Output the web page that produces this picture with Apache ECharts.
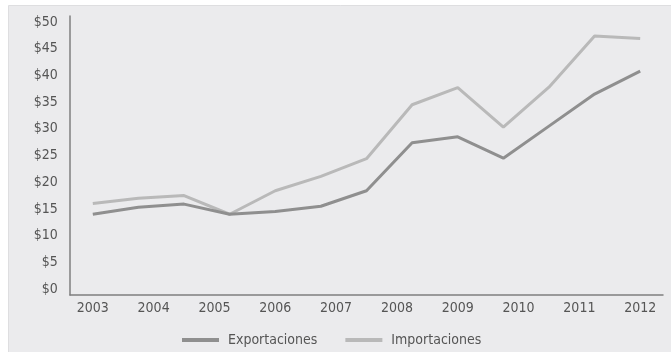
<!DOCTYPE html>
<html>
<head>
<meta charset="utf-8">
<script src="https://cdn.jsdelivr.net/npm/echarts@6/dist/echarts.min.js"></script>
<style>
html,body{margin:0;padding:0;background:#ffffff;}
#c{width:671px;height:352px;}
</style>
</head>
<body>
<div id="c"></div>
<script>
// Year tick labels
var years = ['2003','2004','2005','2006','2007','2008','2009','2010','2011','2012'];
// 13 evenly spaced observation periods spanning 2003..2012
var periods = ['P1','P2','P3','P4','P5','P6','P7','P8','P9','P10','P11','P12','P13'];
// Series values (billions of dollars)
var exportaciones = [14.0, 15.3, 15.9, 14.0, 14.5, 15.5, 18.4, 27.4, 28.5, 24.5, 30.5, 36.5, 40.8];
var importaciones = [16.0, 17.0, 17.5, 14.0, 18.4, 21.1, 24.4, 34.5, 37.7, 30.3, 37.8, 47.4, 46.9];
// Y tick range
var yMin = 0, yMax = 50, yStep = 5;

var FONT = '"Liberation Sans Narrow", "DejaVu Sans Condensed", sans-serif';
var TXT = '#555555';

var chart = echarts.init(document.getElementById('c'), null, {renderer: 'canvas'});
chart.setOption({
  backgroundColor: '#ffffff',
  animation: false,
  graphic: [{
    type: 'rect', z: -10, silent: true,
    shape: {x: 8.5, y: 5.5, width: 680, height: 360},
    style: {fill: '#ebebed', stroke: '#dedee0', lineWidth: 1}
  }],
  textStyle: {fontFamily: FONT},
  grid: [
    {left: 92.8, right: 30.8, top: 22, bottom: 63},
    {left: 70, right: 8, top: 16, bottom: 57}
  ],
  xAxis: [
    {gridIndex: 0, type: 'category', data: years, boundaryGap: false, position: 'bottom',
     axisLine: {show: false}, axisTick: {show: false}, splitLine: {show: false},
     axisLabel: {color: TXT, fontFamily: FONT, fontSize: 14, margin: 12}},
    {gridIndex: 0, type: 'category', data: periods, boundaryGap: false, position: 'top', show: false},
    {gridIndex: 1, type: 'category', data: [''], position: 'bottom',
     axisLine: {show: true, lineStyle: {color: '#7f7f7f', width: 1.5}},
     axisTick: {show: false}, axisLabel: {show: false}, splitLine: {show: false}}
  ],
  yAxis: [
    {gridIndex: 0, type: 'value', min: yMin, max: yMax, interval: yStep,
     axisLine: {show: false}, axisTick: {show: false}, splitLine: {show: false},
     axisLabel: {color: TXT, fontFamily: FONT, fontSize: 14, margin: 35,
                 formatter: function (v) { return '$' + v; }}},
    {gridIndex: 1, type: 'value', min: 0, max: 1,
     axisLine: {show: true, lineStyle: {color: '#7f7f7f', width: 1.5}},
     axisTick: {show: false}, axisLabel: {show: false}, splitLine: {show: false}}
  ],
  legend: {
    left: 182, top: 333, padding: 0, itemWidth: 37, itemHeight: 4, itemGap: 28, icon: 'rect',
    textStyle: {color: TXT, fontFamily: FONT, fontSize: 14, padding: [0, 0, 0, 4]},
    data: ['Exportaciones', 'Importaciones']
  },
  series: [
    {name: 'Exportaciones', type: 'line', xAxisIndex: 1, yAxisIndex: 0, data: exportaciones,
     symbol: 'none', color: '#8f8f8f', lineStyle: {width: 3, color: '#8f8f8f'}, z: 3},
    {name: 'Importaciones', type: 'line', xAxisIndex: 1, yAxisIndex: 0, data: importaciones,
     symbol: 'none', color: '#b9b9b9', lineStyle: {width: 3, color: '#b9b9b9'}, z: 2}
  ]
});
</script>
</body>
</html>
